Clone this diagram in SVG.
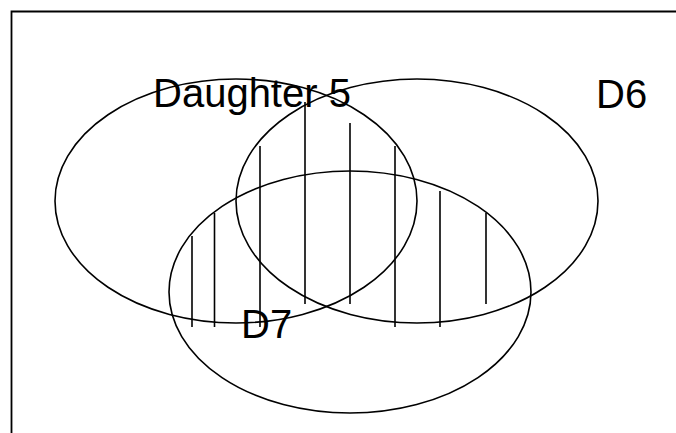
<svg xmlns="http://www.w3.org/2000/svg" width="676" height="433" viewBox="0 0 676 433">
<style>
.e{fill:none;stroke:#000;stroke-width:1.6}
.h{stroke:#000;stroke-width:1.6}
.t{font-family:"Liberation Sans",Arial,sans-serif;font-size:40px;fill:#000}
</style>
<rect x="0" y="0" width="676" height="433" fill="#fff"/>
<path d="M11.5 433 V11.5 H676" fill="none" stroke="#000" stroke-width="1.8"/>
<g id="hatch">
<line class="h" x1="192" y1="236" x2="192" y2="327"/>
<line class="h" x1="214.5" y1="213" x2="214.5" y2="327"/>
<line class="h" x1="260" y1="146" x2="260" y2="327"/>
<line class="h" x1="305" y1="102" x2="305" y2="304"/>
<line class="h" x1="350" y1="123" x2="350" y2="304"/>
<line class="h" x1="395" y1="146" x2="395" y2="327"/>
<line class="h" x1="440" y1="191" x2="440" y2="327"/>
<line class="h" x1="486" y1="213" x2="486" y2="304"/>
</g>
<g id="d5"><ellipse class="e" cx="236" cy="201" rx="181" ry="122"/><text class="t" x="153" y="107">Daughter 5</text></g>
<g id="d6"><ellipse class="e" cx="417" cy="201" rx="181" ry="122"/><text class="t" x="596" y="108">D6</text></g>
<g id="d7"><ellipse class="e" cx="350" cy="292" rx="181" ry="121"/><text class="t" x="241" y="338">D7</text></g>
</svg>
